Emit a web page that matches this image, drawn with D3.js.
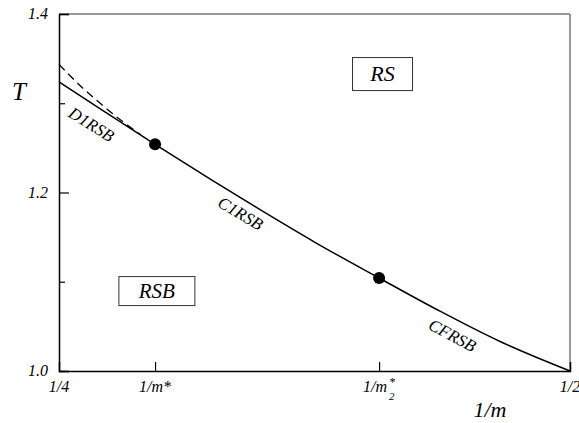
<!DOCTYPE html>
<html>
<head>
<meta charset="utf-8">
<script src="https://cdn.jsdelivr.net/npm/d3@7"></script>
<style>
  body { margin: 0; background: #fff; }
</style>
</head>
<body>
<div id="chart"></div>
<script>
// phase boundary T(1/m)
const invM = [0.25, 0.27, 0.297, 0.325, 0.35, 0.375, 0.4066, 0.4364, 0.4658, 0.5];
const tLine = [1.324, 1.294, 1.254, 1.2135, 1.1785, 1.1445, 1.1042, 1.067, 1.033, 1.0];

// dashed continuation near 1/4
const invMDash = [0.25, 0.26, 0.27, 0.28, 0.29];
const tDash = [1.3436, 1.3205, 1.3002, 1.2815, 1.2647];

// the two marked points
const dotX = [0.297, 0.4066];
const dotT = [1.254, 1.1042];

const xTickVals = [0.25, 0.297, 0.4066, 0.5];
const xTickLabels = ["1/4", "1/m*", "1/m", "1/2"];
const yTickVals = [1.0, 1.2, 1.4];
const yMinorVals = [1.1, 1.3];

const regionLabels = [
  { text: "D1RSB", x: 0.2657, t: 1.2756, angle: 32 },
  { text: "C1RSB", x: 0.3386, t: 1.1759, angle: 31 },
  { text: "CFRSB", x: 0.4423, t: 1.0392, angle: 28 }
];

const width = 579, height = 423;
const margin = { top: 14, right: 9, bottom: 52, left: 59 };

const svg = d3.select("#chart").append("svg")
  .attr("width", width)
  .attr("height", height);

const x = d3.scaleLinear().domain([0.25, 0.5]).range([margin.left, width - margin.right]);
const y = d3.scaleLinear().domain([1.0, 1.4]).range([height - margin.bottom, margin.top]);

const x0 = x.range()[0], x1 = x.range()[1];
const y0 = y.range()[0], y1 = y.range()[1];

function serif(sel) {
  return sel.style("font-family", "'Liberation Serif'").style("font-style", "italic").attr("fill", "#000");
}

// frame: top/right grey, left/bottom black
svg.append("line").attr("x1", x0).attr("x2", x1).attr("y1", y1).attr("y2", y1)
  .attr("stroke", "#777").attr("stroke-width", 1.5);
svg.append("line").attr("x1", x1).attr("x2", x1).attr("y1", y1).attr("y2", y0)
  .attr("stroke", "#777").attr("stroke-width", 1.5);

// left axis, ticks pointing inward
const yAxis = d3.axisRight(y).tickValues(yTickVals).tickSize(10).tickFormat("");
const yg = svg.append("g").attr("transform", `translate(${x0},0)`).call(yAxis);
yg.select(".domain").attr("stroke", "#000").attr("stroke-width", 1.5);
yg.selectAll(".tick line").attr("stroke", "#000").attr("stroke-width", 1.2);

const yMinor = d3.axisRight(y).tickValues(yMinorVals).tickSize(6).tickFormat("");
const ym = svg.append("g").attr("transform", `translate(${x0},0)`).call(yMinor);
ym.select(".domain").remove();
ym.selectAll(".tick line").attr("stroke", "#000").attr("stroke-width", 1.2);

svg.selectAll("text.ylab")
  .data(yTickVals)
  .enter().append("text")
  .attr("class", "ylab")
  .attr("x", x0 - 11)
  .attr("y", d => y(d) + 5)
  .attr("text-anchor", "end")
  .attr("font-size", 16)
  .call(serif)
  .text(d => d.toFixed(1));

// bottom axis, ticks pointing up
const xAxis = d3.axisTop(x).tickValues(xTickVals.slice(1, 3)).tickSize(9).tickFormat("");
const xg = svg.append("g").attr("transform", `translate(0,${y0})`).call(xAxis);
xg.select(".domain").attr("stroke", "#000").attr("stroke-width", 1.5);
xg.selectAll(".tick line").attr("stroke", "#000").attr("stroke-width", 1.2);

svg.selectAll("text.xlab")
  .data(xTickVals)
  .enter().append("text")
  .attr("class", "xlab")
  .attr("x", (d, i) => x(d) - (i === 2 ? 4 : 0))
  .attr("y", y0 + 21)
  .attr("text-anchor", "middle")
  .attr("font-size", 16)
  .call(serif)
  .text((d, i) => xTickLabels[i]);

// star and subscript of 1/m2*
const m2x = x(xTickVals[2]) + 10;
svg.append("text").attr("x", m2x).attr("y", y0 + 15)
  .attr("font-size", 12).call(serif).text("*");
svg.append("text").attr("x", m2x).attr("y", y0 + 29)
  .attr("font-size", 11).call(serif).text("2");

// axis titles
svg.append("text").attr("x", 19).attr("y", 100)
  .attr("text-anchor", "middle").attr("font-size", 25).call(serif).text("T");
svg.append("text").attr("x", 490).attr("y", 417)
  .attr("text-anchor", "middle").attr("font-size", 22).call(serif).text("1/m");

// curves
const line = d3.line().curve(d3.curveMonotoneX);
svg.append("path")
  .attr("d", line(invM.map((d, i) => [x(d), y(tLine[i])])))
  .attr("fill", "none").attr("stroke", "#000").attr("stroke-width", 1.5);
svg.append("path")
  .attr("d", line(invMDash.map((d, i) => [x(d), y(tDash[i])])))
  .attr("fill", "none").attr("stroke", "#000").attr("stroke-width", 1.3)
  .attr("stroke-dasharray", "8,5");

svg.selectAll("circle.pt")
  .data(dotX)
  .enter().append("circle")
  .attr("class", "pt")
  .attr("cx", d => x(d))
  .attr("cy", (d, i) => y(dotT[i]))
  .attr("r", 6)
  .attr("fill", "#000");

// rotated labels along the curve
svg.selectAll("text.reg")
  .data(regionLabels)
  .enter().append("text")
  .attr("class", "reg")
  .attr("transform", d => `translate(${x(d.x)},${y(d.t)}) rotate(${d.angle})`)
  .attr("text-anchor", "middle")
  .attr("dy", 5)
  .attr("font-size", 17)
  .call(serif)
  .text(d => d.text);

// boxed region names
const boxes = [
  { text: "RS", x: 0.3936, t: 1.3512, w: 60, h: 33, fs: 22 },
  { text: "RSB", x: 0.2793, t: 1.1058, w: 76, h: 29, fs: 21 }
];
const bg = svg.selectAll("g.box").data(boxes).enter().append("g").attr("class", "box");
bg.append("rect")
  .attr("x", d => x(d.x))
  .attr("y", d => y(d.t))
  .attr("width", d => d.w)
  .attr("height", d => d.h)
  .attr("fill", "#fff").attr("stroke", "#333").attr("stroke-width", 1);
bg.append("text")
  .attr("x", d => x(d.x) + d.w / 2)
  .attr("y", d => y(d.t) + d.h / 2 + 7)
  .attr("text-anchor", "middle")
  .attr("font-size", d => d.fs)
  .call(serif)
  .text(d => d.text);
</script>
</body>
</html>
